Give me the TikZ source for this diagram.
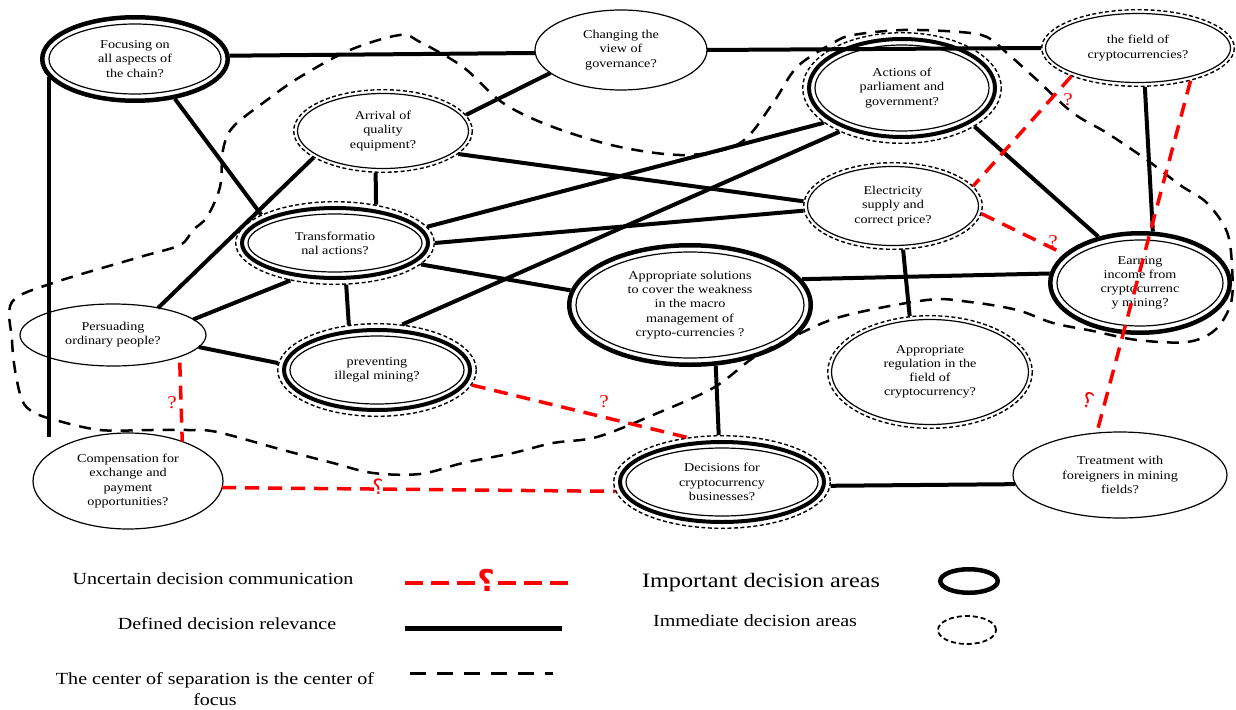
\documentclass[tikz,border=0pt]{standalone}
\usepackage{fontspec}
\setmainfont{Liberation Serif}[FakeStretch=1.18]
\newfontfamily\arabicfont[Script=Arabic]{DejaVu Sans}
\TeXXeTstate=1
\usetikzlibrary{shapes.geometric,calc}
\tikzset{
  dn/.style={ellipse, inner sep=0pt, outer sep=0pt, align=center, font=\fontsize{12}{14.2}\selectfont},
  thinring/.style={line width=1.2pt},
  thickring/.style={line width=4.5pt},
  dashring/.style={line width=1.4pt, dash pattern=on 4pt off 2.5pt},
  rel/.style={line width=4pt},
  unc/.style={line width=3.5pt, red, dash pattern=on 14pt off 9pt},
  sep/.style={line width=2.5pt, dash pattern=on 12pt off 9pt},
  qmark/.style={text=red, font=\fontsize{18}{18}\selectfont, inner sep=0pt},
  amark/.style={text=red, font=\arabicfont\fontsize{21}{21}\selectfont, inner sep=0pt},
  legtext/.style={font=\fontsize{17}{20.6}\selectfont, align=center, inner sep=0pt},
}
% name, x, y, rx, ry, text
\newcommand{\plainN}[6]{\node[dn,draw,thinring,minimum width={2*#4pt},minimum height={2*#5pt}] (#1) at (#2,#3) {#6};}
\newcommand{\impN}[6]{\node[dn,minimum width={2*#4pt},minimum height={2*#5pt}] (#1) at (#2,#3) {#6};
  \draw[thickring] (#1.center) ellipse [x radius={#4-2.25}, y radius={#5-2.25}];
  \draw[thinring] (#1.center) ellipse [x radius={#4-9}, y radius={#5-9}];}
\newcommand{\immN}[6]{\node[dn,minimum width={2*#4pt},minimum height={2*#5pt}] (#1) at (#2,#3) {#6};
  \draw[dashring] (#1.center) ellipse [x radius={#4-0.7}, y radius={#5-0.7}];
  \draw[thinring] (#1.center) ellipse [x radius={#4-4.5}, y radius={#5-4.5}];}
\newcommand{\bothN}[6]{\node[dn,minimum width={2*#4pt},minimum height={2*#5pt}] (#1) at (#2,#3) {#6};
  \draw[dashring] (#1.center) ellipse [x radius={#4-0.7}, y radius={#5-0.7}];
  \draw[line width=4pt] (#1.center) ellipse [x radius={#4-7}, y radius={#5-7}];
  \draw[thinring] (#1.center) ellipse [x radius={#4-13}, y radius={#5-13}];}
\begin{document}
\begin{tikzpicture}[x=1pt,y=-1pt]
\useasboundingbox (0,0) rectangle (1236,709);
% separation boundary
\draw[sep] plot[smooth cycle, tension=0.55] coordinates {
(12,302) (12,340) (15,370) (22,400) (33,412) (55,420) (100,430) (150,430) (187,430) (217,432)
(283,450) (333,463) (373,473) (420,474) (463,463) (513,453) (553,443) (597,437) (653,415)
(713,388) (753,358) (787,340) (840,317) (927,300) (970,302) (1017,310) (1053,323) (1093,331)
(1137,340) (1187,342) (1215,330) (1231,303) (1232,267) (1227,232) (1207,203) (1180,185)
(1147,160) (1107,133) (1073,113) (1037,80) (1007,53) (987,37) (960,32) (903,30) (853,35)
(833,43) (797,67) (773,103) (740,143) (687,155) (620,147) (553,127) (503,103) (463,67)
(420,42) (400,35) (350,50) (300,77) (267,100) (233,127) (223,150) (220,187) (207,217)
(193,230) (180,245) (140,257) (53,283)};
% nodes
\impN{foc}{135}{59}{95}{44}{Focusing on\\all aspects of\\the chain?}
\plainN{chg}{621}{50}{86}{40}{Changing the\\view of\\governance?}
\immN{fld}{1138}{48}{97}{39}{the field of\\cryptocurrencies?}
\bothN{act}{902}{88}{100}{56}{Actions of\\parliament and\\government?}
\immN{arr}{383}{131}{90}{42}{Arrival of\\quality\\equipment?}
\bothN{trn}{335}{243}{100}{42}{Transformatio\\nal actions?}
\immN{ele}{893}{206}{90}{44}{Electricity\\supply and\\correct price?}
\impN{ern}{1140}{283}{92}{52}{Earning\\income from\\cryptocurrenc\\y mining?}
\impN{sol}{690}{305}{123}{62}{Appropriate solutions\\to cover the weakness\\in the macro\\management of\\crypto-currencies ?}
\plainN{per}{113}{335}{93}{31}{Persuading\\ordinary people?}
\bothN{prv}{377}{370}{100}{47}{preventing\\illegal mining?}
\immN{reg}{930}{372}{103}{57}{Appropriate\\regulation in the\\field of\\cryptocurrency?}
\plainN{cmp}{128}{481}{95}{48}{Compensation for\\exchange and\\payment\\opportunities?}
\bothN{dec}{722}{482}{109}{47}{Decisions for\\cryptocurrency\\businesses?}
\plainN{trt}{1120}{475}{107}{43}{Treatment with\\foreigners in mining\\fields?}
% defined relevance
\coordinate (sEnd) at (47,437);
\draw[rel] (foc.2.4) -- (chg.182);
\draw[rel] (chg.0) -- (fld.180);
\draw[rel] (foc.192) -- (foc.192 |- sEnd);
\draw[rel] (foc.-45.7) -- (trn.159.3);
\draw[rel] (arr.201.8) -- (per.31.5);
\draw[rel] (arr.260.5) -- (trn.43);
\draw[rel] (arr.11) -- (chg.198);
\draw[rel] (arr.-17.6) -- (ele.177.5);
\draw[rel] (trn.10.2) -- (act.204.1);
\draw[rel] (trn.-0.8) -- (ele.183.8);
\draw[rel] (prv.61.5) -- (act.215.6);
\draw[rel] (trn.-14.2) -- (sol.173.9);
\draw[rel] (trn.220) -- (per.11.7);
\draw[rel] (trn.-75.4) -- (prv.122.7);
\draw[rel] (per.-8.5) -- (prv.176.1);
\draw[rel] (sol.13.8) -- (ern.174.6);
\draw[rel] (ele.-77.9) -- (reg.110.2);
\draw[rel] (act.-28.8) -- (ern.132.8);
\draw[rel] (fld.-80) -- (ern.76.6);
\draw[rel] (sol.-67.4) -- (dec.94.9);
\draw[rel] (dec.-2.1) -- (trt.185.8);
% uncertain
\draw[unc] (fld.203) -- (ele.14.9);
\draw[unc] (ele.-5.9) -- (ern.159.2);
\draw[unc] (fld.-32.2) -- (trt.119.2);
\draw[unc, shorten <=6pt] (per.-18.7) -- (cmp.36.9);
\draw[unc] (prv.-9.7) -- (dec.128.5);
\draw[unc] (cmp.-4.2) -- (dec.185.2);
\node[qmark] (q1) at (1068,100) {?};
\node[qmark] (q2) at (1053,242) {?};
\node[amark, rotate=-20] (q3) at (1088,400) {\beginR ؟\endR};
\node[qmark] (q4) at (172,403) {?};
\node[qmark] (q5) at (604,402) {?};
\node[amark] (q6) at (378,487) {\beginR ؟\endR};
% legend
\node[legtext] (l1) at (213,579) {Uncertain decision communication};
\coordinate (l1a) at (405,583); \coordinate (l1b) at (475,583);
\coordinate (l1c) at (497,583); \coordinate (l1d) at (568,583);
\draw[red, line width=4pt, dash pattern=on 18pt off 8pt] (l1a) -- (l1b);
\draw[red, line width=4pt, dash pattern=on 18pt off 8pt] (l1d) -- (l1c);
\node[text=red, font=\arabicfont\bfseries\fontsize{30}{30}\selectfont, inner sep=0pt] (l1q) at (486,580) {\beginR ؟\endR};
\node[legtext] (l2) at (227,624) {Defined decision relevance};
\coordinate (l2a) at (405,628); \coordinate (l2b) at (562,628);
\draw[line width=5pt] (l2a) -- (l2b);
\node[legtext] (l3) at (215,689) {The center of separation is the center of\\focus};
\coordinate (l3a) at (410,673); \coordinate (l3b) at (553,673);
\draw[line width=3pt, dash pattern=on 16pt off 11pt] (l3a) -- (l3b);
\node[font=\fontsize{20.5}{24}\selectfont, inner sep=0pt] (l4) at (761,583) {Important decision areas};
\node[ellipse, draw, line width=4.5pt, minimum width=57.5pt, minimum height=23.5pt, inner sep=0pt] (le1) at (969,581) {};
\node[legtext] (l5) at (755,621) {Immediate decision areas};
\node[ellipse, draw, line width=1.8pt, dash pattern=on 5pt off 3pt, minimum width=58pt, minimum height=28pt, inner sep=0pt] (le2) at (967,630) {};
\end{tikzpicture}
\end{document}
